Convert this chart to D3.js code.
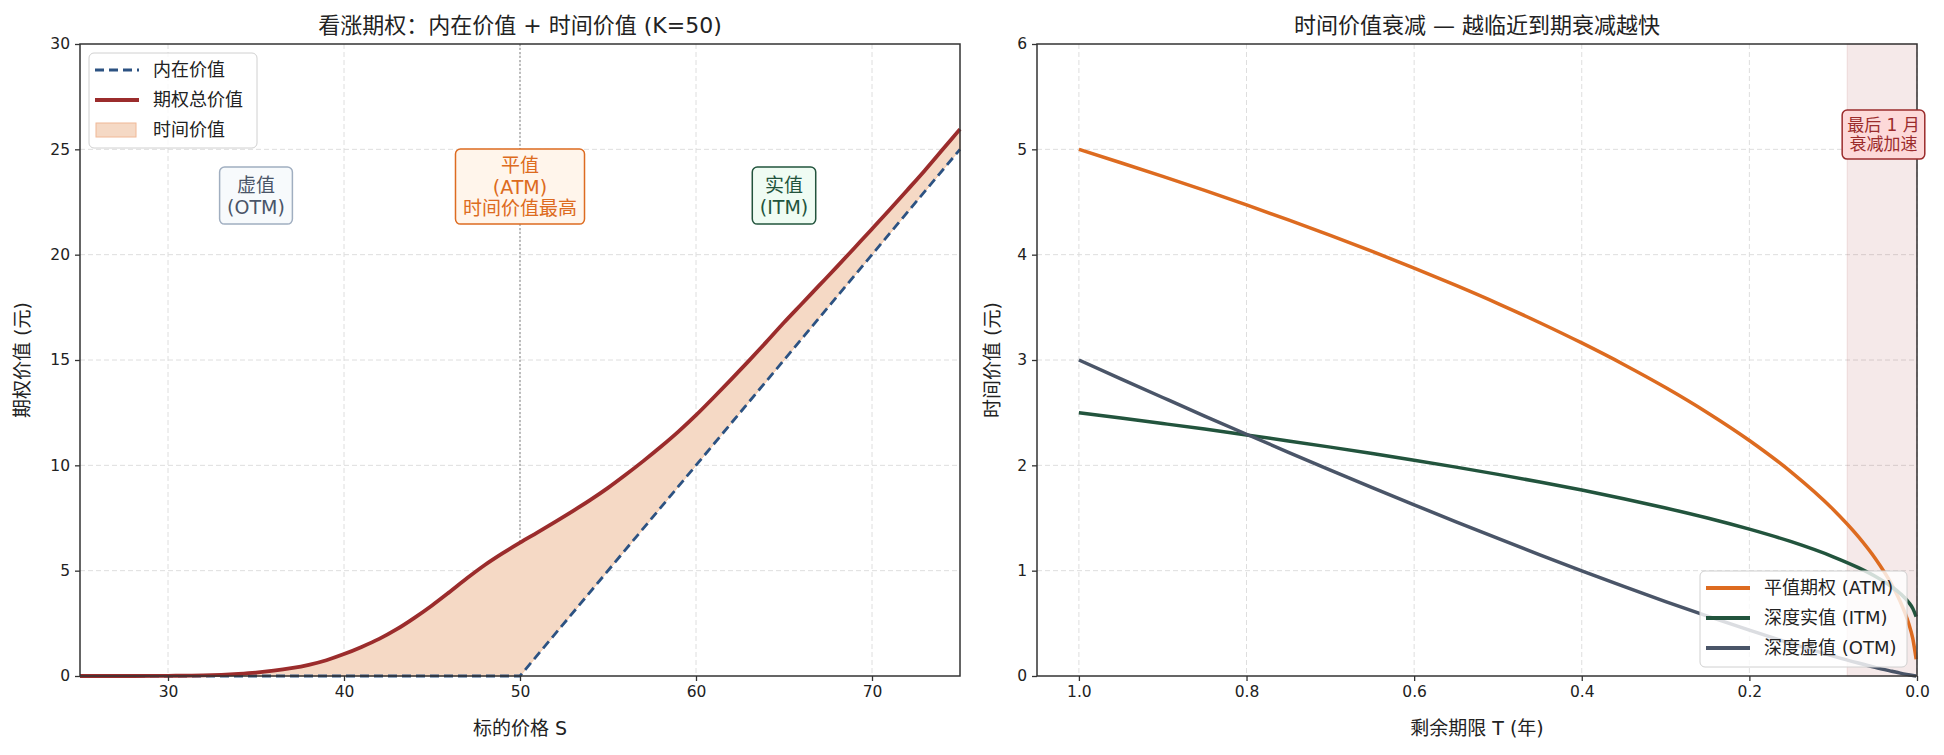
<!DOCTYPE html>
<html>
<head>
<meta charset="utf-8">
<script src="https://cdn.jsdelivr.net/npm/d3@7"></script>
<style>
  body { margin: 0; background: #fff; }
  text { font-family: "DejaVu Sans", "Noto Sans CJK SC", sans-serif; fill: #222; }
</style>
</head>
<body>
<div id="chart"></div>
<script>
let w = 1944;
let h = 755;

// left panel: call option value against underlying price, K=50
let spotPrices = [25, 28, 30, 32, 34, 35, 36, 37, 38, 39, 40, 41, 42, 43, 44, 45, 46, 47, 48, 49, 50,
  51, 52, 53, 54, 55, 56, 57, 58, 59, 60, 61, 62, 63, 64, 65, 66, 67, 68, 69, 70, 71, 72, 73, 74, 75];
let totalValues = [0, 0, 0.01, 0.03, 0.1, 0.16, 0.25, 0.37, 0.53, 0.75, 1.04, 1.38, 1.76, 2.22, 2.76, 3.35, 3.99, 4.65, 5.27, 5.82, 6.33,
  6.82, 7.32, 7.83, 8.36, 8.93, 9.55, 10.2, 10.88, 11.6, 12.38, 13.22, 14.08, 14.96, 15.86, 16.78, 17.66, 18.54, 19.42, 20.32, 21.22, 22.13, 23.06, 24.0, 24.98, 25.96];
let intrinsicSpot = [25, 50, 75];
let intrinsicValues = [0, 0, 25];
let spotTicks = [30, 40, 50, 60, 70];
let valueTicks = [0, 5, 10, 15, 20, 25, 30];

// right panel: time value left vs years to expiry
let yearsLeft = [1.0, 0.95, 0.9, 0.85, 0.8, 0.75, 0.7, 0.65, 0.6, 0.55, 0.5, 0.45, 0.4, 0.35, 0.3, 0.25, 0.2, 0.15, 0.1, 0.07, 0.05, 0.03, 0.02, 0.01, 0.005, 0.001];
let atmDecay = [5.000, 4.873, 4.743, 4.610, 4.472, 4.330, 4.183, 4.031, 3.873, 3.708, 3.536, 3.354, 3.162, 2.958, 2.739, 2.500, 2.236, 1.936, 1.581, 1.323, 1.118, 0.866, 0.707, 0.500, 0.354, 0.158];
let itmDecay = [2.500, 2.449, 2.397, 2.344, 2.289, 2.232, 2.173, 2.112, 2.049, 1.983, 1.914, 1.842, 1.765, 1.683, 1.595, 1.500, 1.394, 1.275, 1.132, 1.029, 0.947, 0.846, 0.783, 0.700, 0.641, 0.563];
let otmDecay = [3.000, 2.821, 2.644, 2.468, 2.295, 2.124, 1.955, 1.789, 1.625, 1.464, 1.306, 1.151, 0.999, 0.851, 0.707, 0.568, 0.435, 0.308, 0.189, 0.123, 0.082, 0.045, 0.027, 0.012, 0.005, 0.001];
let yearTicks = [1.0, 0.8, 0.6, 0.4, 0.2, 0.0];
let decayTicks = [0, 1, 2, 3, 4, 5, 6];
let lastMonth = [1 / 12, 0];

let plotTop = 44;
let plotBottom = 676;

let viz = d3.select("#chart")
  .append("svg")
    .attr("width", w)
    .attr("height", h)
;

// ---------- scales ----------
let xL = d3.scaleLinear().domain([25, 75]).range([80, 960]);
let yL = d3.scaleLinear().domain([0, 30]).range([plotBottom, plotTop]);
let xR = d3.scaleLinear().domain([1.05, 0]).range([1037, 1917]);
let yR = d3.scaleLinear().domain([0, 6]).range([plotBottom, plotTop]);

function drawGrid(xScale, yScale, xTicks, yTicks){
  let g = viz.append("g").attr("class", "grid");
  g.selectAll(".gx").data(xTicks).enter()
    .append("line")
      .attr("x1", d => xScale(d)).attr("x2", d => xScale(d))
      .attr("y1", plotTop).attr("y2", plotBottom)
      .attr("stroke", "#dedede").attr("stroke-width", 1).attr("stroke-dasharray", "5,3");
  g.selectAll(".gy").data(yTicks).enter()
    .append("line")
      .attr("x1", xScale.range()[0]).attr("x2", xScale.range()[1])
      .attr("y1", d => yScale(d)).attr("y2", d => yScale(d))
      .attr("stroke", "#dedede").attr("stroke-width", 1).attr("stroke-dasharray", "5,3");
}

function drawAxes(xScale, yScale, xTicks, yTicks, xFmt, yFmt){
  let xAxis = d3.axisBottom(xScale).tickValues(xTicks).tickSize(5).tickSizeOuter(0).tickPadding(5).tickFormat(xFmt);
  let yAxis = d3.axisLeft(yScale).tickValues(yTicks).tickSize(5).tickSizeOuter(0).tickPadding(5).tickFormat(yFmt);
  let xg = viz.append("g").attr("transform", "translate(0," + plotBottom + ")").call(xAxis);
  let yg = viz.append("g").attr("transform", "translate(" + xScale.range()[0] + ",0)").call(yAxis);
  [xg, yg].forEach(function(g){
    g.select(".domain").remove();
    g.selectAll("line").attr("stroke", "#333").attr("stroke-width", 1.3);
    g.selectAll("text").style("font-size", "15.5px").attr("fill", "#222");
  });
  viz.append("rect")
    .attr("x", xScale.range()[0]).attr("y", plotTop)
    .attr("width", xScale.range()[1] - xScale.range()[0])
    .attr("height", plotBottom - plotTop)
    .attr("fill", "none").attr("stroke", "#333").attr("stroke-width", 1.5);
}

function addBox(lines, cx, anchorY, alignBottom, fontSize, lineGap, padX, padY, colors){
  let g = viz.append("g");
  let rect = g.append("rect");
  let t = g.append("text")
    .attr("text-anchor", "middle")
    .style("font-size", fontSize + "px");
  lines.forEach(function(l, i){
    t.append("tspan").attr("x", 0).attr("y", i * lineGap).text(l).attr("fill", colors.text);
  });
  let bb = t.node().getBBox();
  rect.attr("x", bb.x - padX).attr("y", bb.y - padY)
    .attr("width", bb.width + padX * 2).attr("height", bb.height + padY * 2)
    .attr("rx", 5)
    .attr("fill", colors.fill).attr("stroke", colors.edge).attr("stroke-width", 1.5);
  let dy;
  if(alignBottom){
    dy = anchorY - (bb.y + bb.height + padY);
  } else {
    dy = anchorY - (bb.y + bb.height / 2);
  }
  g.attr("transform", "translate(" + cx + "," + dy + ")");
}

function addLegend(x, y, bw, bh, items){
  let g = viz.append("g").attr("transform", "translate(" + x + "," + y + ")");
  g.append("rect")
    .attr("width", bw).attr("height", bh).attr("rx", 5)
    .attr("fill", "#fff").attr("fill-opacity", 0.8)
    .attr("stroke", "#d0d0d0").attr("stroke-width", 1);
  items.forEach(function(it, i){
    let cy = 17 + i * 30;
    if(it.patch){
      g.append("rect")
        .attr("x", 7).attr("y", cy - 7).attr("width", 40).attr("height", 14)
        .attr("fill", it.patch).attr("stroke", it.edge).attr("stroke-width", 1);
    } else {
      g.append("line")
        .attr("x1", 6).attr("x2", 50).attr("y1", cy).attr("y2", cy)
        .attr("stroke", it.color).attr("stroke-width", it.width)
        .attr("stroke-dasharray", it.dash || null);
    }
    g.append("text")
      .attr("x", 64).attr("y", cy).attr("dy", "0.35em")
      .style("font-size", "18px")
      .text(it.label);
  });
}

// ---------- left panel ----------
drawGrid(xL, yL, spotTicks, valueTicks.slice(1, -1));

// strike marker
viz.append("line")
  .attr("x1", xL(50)).attr("x2", xL(50))
  .attr("y1", plotTop).attr("y2", plotBottom)
  .attr("stroke", "#999").attr("stroke-width", 1.2).attr("stroke-dasharray", "2,2");

let totalPts = spotPrices.map((s, i) => [s, totalValues[i]]);
let intrinsicPts = intrinsicSpot.map((s, i) => [s, intrinsicValues[i]]);

let totalLine = d3.line()
  .x(d => xL(d[0]))
  .y(d => yL(d[1]))
  .curve(d3.curveMonotoneX);
let intrinsicLine = d3.line()
  .x(d => xL(d[0]))
  .y(d => yL(d[1]));

// time value band: between total value curve and intrinsic value
let backPts = intrinsicPts.slice().reverse();
let bandPath = totalLine(totalPts) + backPts.map(d => "L" + xL(d[0]) + "," + yL(d[1])).join("") + "Z";
viz.append("path")
  .attr("d", bandPath)
  .attr("fill", "#f5d9c5")
  .attr("stroke", "#f3c7a6").attr("stroke-width", 1);

viz.append("path")
  .attr("d", intrinsicLine(intrinsicPts))
  .attr("fill", "none")
  .attr("stroke", "#2c5282").attr("stroke-width", 2.8).attr("stroke-dasharray", "9,5");

viz.append("path")
  .attr("d", totalLine(totalPts))
  .attr("fill", "none")
  .attr("stroke", "#9b2c2c").attr("stroke-width", 3.8);

drawAxes(xL, yL, spotTicks, valueTicks, d3.format("d"), d3.format("d"));

addLegend(89, 53, 168, 95, [
  { label: "内在价值", color: "#2c5282", width: 3, dash: "9,5" },
  { label: "期权总价值", color: "#9b2c2c", width: 4 },
  { label: "时间价值", patch: "#f5d9c5", edge: "#f0b896" }
]);

let boxBottom = yL(21.45);
addBox(["虚值", "(OTM)"], xL(35), boxBottom, true, 19, 22, 7.5, 6.5,
  { text: "#4a5568", edge: "#a0aec0", fill: "#f7fafc" });
addBox(["平值", "(ATM)", "时间价值最高"], xL(50), boxBottom, true, 19, 21.5, 7.5, 5,
  { text: "#dd6b20", edge: "#dd6b20", fill: "#fff5eb" });
addBox(["实值", "(ITM)"], xL(65), boxBottom, true, 19, 22, 7.5, 6.5,
  { text: "#22543d", edge: "#22543d", fill: "#effcf3" });

viz.append("text")
  .attr("x", (xL.range()[0] + xL.range()[1]) / 2).attr("y", 25).attr("dy", "0.35em")
  .attr("text-anchor", "middle").style("font-size", "22px")
  .text("看涨期权：内在价值 + 时间价值 (K=50)");
viz.append("text")
  .attr("x", (xL.range()[0] + xL.range()[1]) / 2).attr("y", 728).attr("dy", "0.35em")
  .attr("text-anchor", "middle").style("font-size", "19px")
  .text("标的价格 S");
viz.append("text")
  .attr("transform", "translate(22," + (plotTop + plotBottom) / 2 + ") rotate(-90)")
  .attr("dy", "0.35em")
  .attr("text-anchor", "middle").style("font-size", "19px")
  .text("期权价值 (元)");

// ---------- right panel ----------
drawGrid(xR, yR, yearTicks, decayTicks.slice(1, -1));

viz.append("rect")
  .attr("x", xR(lastMonth[0])).attr("y", plotTop)
  .attr("width", xR(lastMonth[1]) - xR(lastMonth[0]))
  .attr("height", plotBottom - plotTop)
  .attr("fill", "#9b2c2c").attr("fill-opacity", 0.1)
  .attr("stroke", "#9b2c2c").attr("stroke-opacity", 0.12);

let decayLine = d3.line()
  .x(d => xR(d[0]))
  .y(d => yR(d[1]))
  .curve(d3.curveMonotoneX);

let decaySeries = [
  { values: atmDecay, color: "#dd6b20", label: "平值期权 (ATM)" },
  { values: itmDecay, color: "#22543d", label: "深度实值 (ITM)" },
  { values: otmDecay, color: "#4a5568", label: "深度虚值 (OTM)" }
];

decaySeries.forEach(function(s){
  let pts = yearsLeft.map((t, i) => [t, s.values[i]]);
  viz.append("path")
    .attr("d", decayLine(pts))
    .attr("fill", "none")
    .attr("stroke", s.color).attr("stroke-width", 3.5);
});

drawAxes(xR, yR, yearTicks, decayTicks, d3.format(".1f"), d3.format("d"));

addBox(["最后 1 月", "衰减加速"], xR(0.04), yR(5.14), false, 17, 19, 5, 5,
  { text: "#9b2c2c", edge: "#9b2c2c", fill: "#fdd9d9" });

addLegend(1700, 571, 207, 96, decaySeries.map(s => ({ label: s.label, color: s.color, width: 4 })));

viz.append("text")
  .attr("x", (xR.range()[0] + xR.range()[1]) / 2).attr("y", 25).attr("dy", "0.35em")
  .attr("text-anchor", "middle").style("font-size", "22px")
  .text("时间价值衰减 — 越临近到期衰减越快");
viz.append("text")
  .attr("x", (xR.range()[0] + xR.range()[1]) / 2).attr("y", 728).attr("dy", "0.35em")
  .attr("text-anchor", "middle").style("font-size", "19px")
  .text("剩余期限 T (年)");
viz.append("text")
  .attr("transform", "translate(992," + (plotTop + plotBottom) / 2 + ") rotate(-90)")
  .attr("dy", "0.35em")
  .attr("text-anchor", "middle").style("font-size", "19px")
  .text("时间价值 (元)");
</script>
</body>
</html>
